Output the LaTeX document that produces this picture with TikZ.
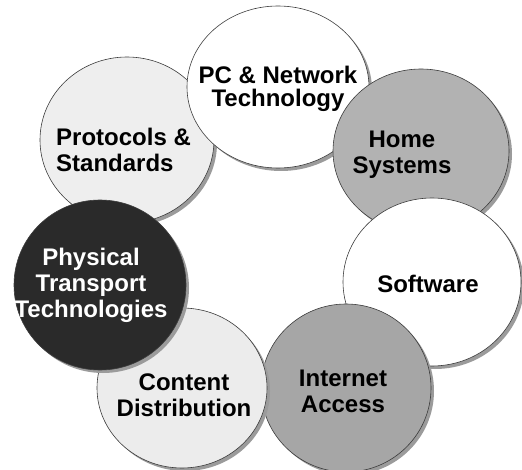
\documentclass[tikz,border=0pt]{standalone}
\usepackage{fontspec}
\setmainfont{Liberation Sans}
\usetikzlibrary{shapes.geometric,shadows}

\definecolor{lightfill}{RGB}{238,238,238}
\definecolor{contentfill}{RGB}{236,236,236}
\definecolor{homefill}{RGB}{178,178,178}
\definecolor{netfill}{RGB}{166,166,166}
\definecolor{darkfill}{RGB}{42,42,42}
\definecolor{edge}{RGB}{60,60,60}
\definecolor{shade}{RGB}{155,155,155}

\begin{document}
\begin{tikzpicture}[x=1pt,y=-1pt,
  blob/.style={ellipse, draw=edge, line width=0.6pt, inner sep=0pt,
    drop shadow={shadow xshift=3pt, shadow yshift=-3pt, fill=shade, opacity=1}},
  lbl/.style={font=\bfseries\fontsize{24}{26}\selectfont, align=center, inner sep=0pt}]

\useasboundingbox (0,0) rectangle (522,470);

% ring of topic ellipses, drawn back to front
\node[blob, fill=lightfill,   minimum width=174pt, minimum height=166pt] (proto)    at (127,140) {};
\node[blob, fill=white,       minimum width=182pt, minimum height=162pt] (pc)       at (278,87)  {};
\node[blob, fill=homefill,    minimum width=176pt, minimum height=164pt] (home)     at (421,151) {};
\node[blob, fill=white,       minimum width=178pt, minimum height=168pt] (software) at (432,282) {};
\node[blob, fill=netfill,     minimum width=170pt, minimum height=168pt] (internet) at (346,388) {};
\node[blob, fill=contentfill, minimum width=170pt, minimum height=160pt] (content)  at (182,388) {};
\node[blob, fill=darkfill,    minimum width=172pt, minimum height=170pt] (physical) at (100,285) {};

% labels
\node[lbl, align=left, anchor=west] (protoT) at (56,150) {Protocols \&\\Standards};
\node[lbl, font=\bfseries\fontsize{24}{23}\selectfont] (pcT) at (278,89) {PC \& Network\\Technology};
\node[lbl] (homeT) at (402,155) {Home\\Systems};
\node[lbl] (softwareT) at (428,284) {Software};
\node[lbl] (internetT) at (343,391) {Internet\\Access};
\node[lbl] (contentT) at (184,395) {Content\\Distribution};
\node[lbl, text=white] (physicalT) at (91,285) {Physical\\Transport\\Technologies};
\end{tikzpicture}
\end{document}
